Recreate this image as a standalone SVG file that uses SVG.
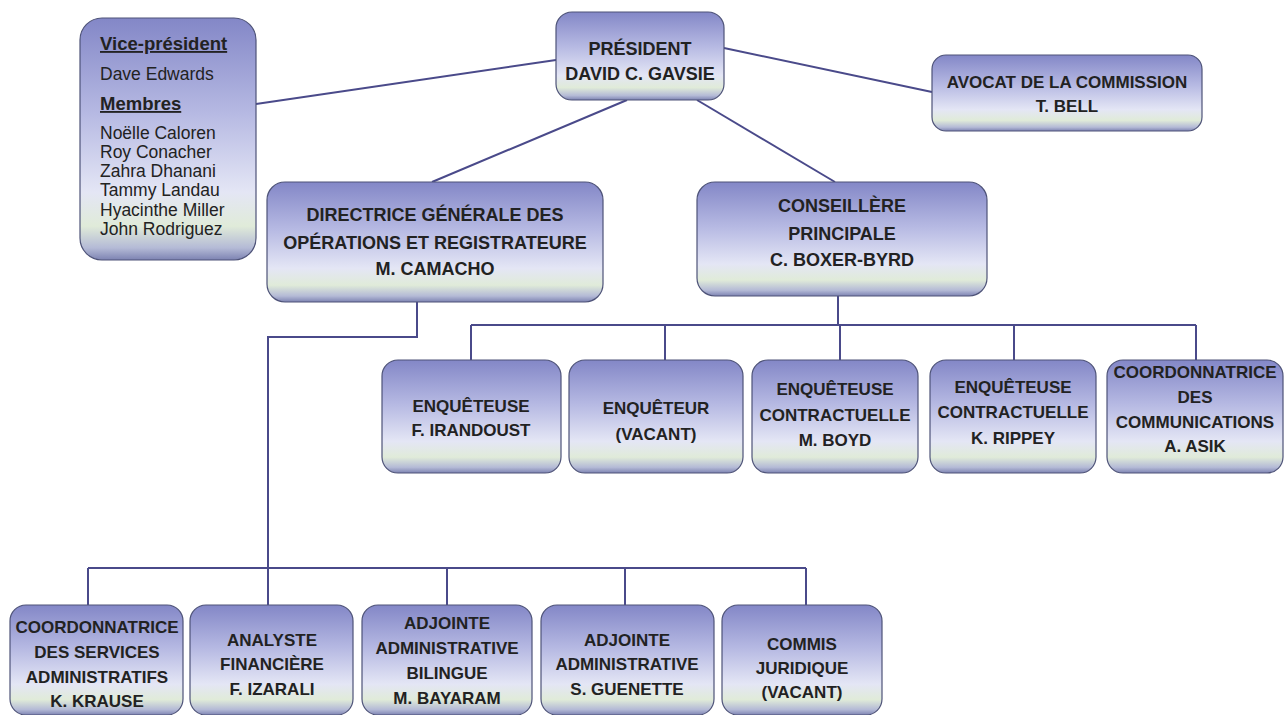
<svg xmlns="http://www.w3.org/2000/svg" width="1284" height="715" viewBox="0 0 1284 715">
<defs>
<linearGradient id="g" x1="0" y1="0" x2="0" y2="1">
<stop offset="0" stop-color="#8387c7"/>
<stop offset="0.4" stop-color="#b7bae3"/>
<stop offset="0.72" stop-color="#e4e6f5"/>
<stop offset="0.86" stop-color="#e0ebd9"/>
<stop offset="0.95" stop-color="#b4bad6"/>
<stop offset="1" stop-color="#7d83b2"/>
</linearGradient>
<style>
.b{fill:url(#g);stroke:#4e5378;stroke-width:1.2}
.t{font-family:"Liberation Sans",Arial,sans-serif;font-weight:bold;font-size:17px;fill:#222;text-anchor:middle}
.v{font-family:"Liberation Sans",Arial,sans-serif;font-size:17.5px;fill:#222}
.vb{font-weight:bold;text-decoration:underline}
.c{stroke:#4a4a8a;stroke-width:2;fill:none}
</style>
</defs>
<g id="connectors">
<line class="c" x1="256" y1="104" x2="556" y2="60"/>
<line class="c" x1="724" y1="48" x2="932" y2="92"/>
<line class="c" x1="627" y1="100" x2="432" y2="182"/>
<line class="c" x1="697" y1="100" x2="835" y2="182"/>
<polyline class="c" points="838,296 838,325"/>
<line class="c" x1="471" y1="325" x2="1196" y2="325"/>
<line class="c" x1="471" y1="325" x2="471" y2="360"/>
<line class="c" x1="665" y1="325" x2="665" y2="360"/>
<line class="c" x1="840" y1="325" x2="840" y2="360"/>
<line class="c" x1="1014" y1="325" x2="1014" y2="360"/>
<line class="c" x1="1196" y1="325" x2="1196" y2="360"/>
<polyline class="c" points="417,302 417,337 268,337 268,568"/>
<line class="c" x1="88" y1="568" x2="806" y2="568"/>
<line class="c" x1="88" y1="568" x2="88" y2="605"/>
<line class="c" x1="268" y1="568" x2="268" y2="605"/>
<line class="c" x1="447" y1="568" x2="447" y2="605"/>
<line class="c" x1="625" y1="568" x2="625" y2="605"/>
<line class="c" x1="806" y1="568" x2="806" y2="605"/>
</g>
<g id="vp">
<rect class="b" x="80" y="18" width="176" height="242" rx="22"/>
<text class="v vb" x="100" y="50" style="font-size:18.5px">Vice-président</text>
<text class="v" x="100" y="80">Dave Edwards</text>
<text class="v vb" x="100" y="110" style="font-size:18.5px">Membres</text>
<text class="v" x="100" y="139">Noëlle Caloren</text>
<text class="v" x="100" y="158">Roy Conacher</text>
<text class="v" x="100" y="177">Zahra Dhanani</text>
<text class="v" x="100" y="196">Tammy Landau</text>
<text class="v" x="100" y="216">Hyacinthe  Miller</text>
<text class="v" x="100" y="235">John Rodriguez</text>
</g>
<g id="president">
<rect class="b" x="556" y="12" width="168" height="88" rx="16"/>
<text class="t" x="640" y="55" style="font-size:18px">PRÉSIDENT</text>
<text class="t" x="640" y="80" style="font-size:18px">DAVID C. GAVSIE</text>
</g>
<g id="avocat">
<rect class="b" x="932" y="55" width="270" height="76" rx="14"/>
<text class="t" x="1067" y="88">AVOCAT DE LA COMMISSION</text>
<text class="t" x="1067" y="112">T. BELL</text>
</g>
<g id="directrice">
<rect class="b" x="267" y="182" width="336" height="120" rx="18"/>
<text class="t" x="435" y="221" style="font-size:18px">DIRECTRICE GÉNÉRALE DES</text>
<text class="t" x="435" y="249" style="font-size:18px">OPÉRATIONS ET REGISTRATEURE</text>
<text class="t" x="435" y="275" style="font-size:18px">M. CAMACHO</text>
</g>
<g id="conseillere">
<rect class="b" x="697" y="182" width="290" height="114" rx="18"/>
<text class="t" x="842" y="212" style="font-size:18px">CONSEILLÈRE</text>
<text class="t" x="842" y="240" style="font-size:18px">PRINCIPALE</text>
<text class="t" x="842" y="266" style="font-size:18px">C. BOXER-BYRD</text>
</g>
<g id="irandoust">
<rect class="b" x="382" y="360" width="179" height="113" rx="16"/>
<text class="t" x="471" y="412">ENQUÊTEUSE</text>
<text class="t" x="471" y="436">F. IRANDOUST</text>
</g>
<g id="enqueteur">
<rect class="b" x="569" y="360" width="174" height="113" rx="16"/>
<text class="t" x="656" y="414">ENQUÊTEUR</text>
<text class="t" x="656" y="440">(VACANT)</text>
</g>
<g id="boyd">
<rect class="b" x="752" y="360" width="166" height="113" rx="16"/>
<text class="t" x="835" y="395">ENQUÊTEUSE</text>
<text class="t" x="835" y="421">CONTRACTUELLE</text>
<text class="t" x="835" y="446">M. BOYD</text>
</g>
<g id="rippey">
<rect class="b" x="930" y="360" width="166" height="113" rx="16"/>
<text class="t" x="1013" y="393">ENQUÊTEUSE</text>
<text class="t" x="1013" y="418">CONTRACTUELLE</text>
<text class="t" x="1013" y="444">K. RIPPEY</text>
</g>
<g id="asik">
<rect class="b" x="1107" y="360" width="176" height="113" rx="16"/>
<text class="t" x="1195" y="378">COORDONNATRICE</text>
<text class="t" x="1195" y="403">DES</text>
<text class="t" x="1195" y="428">COMMUNICATIONS</text>
<text class="t" x="1195" y="452">A. ASIK</text>
</g>
<g id="krause">
<rect class="b" x="10" y="605" width="173" height="110" rx="16"/>
<text class="t" x="97" y="633">COORDONNATRICE</text>
<text class="t" x="97" y="658">DES SERVICES</text>
<text class="t" x="97" y="683">ADMINISTRATIFS</text>
<text class="t" x="97" y="707">K. KRAUSE</text>
</g>
<g id="izarali">
<rect class="b" x="190" y="605" width="163" height="110" rx="16"/>
<text class="t" x="272" y="646">ANALYSTE</text>
<text class="t" x="272" y="670">FINANCIÈRE</text>
<text class="t" x="272" y="695">F. IZARALI</text>
</g>
<g id="bayaram">
<rect class="b" x="362" y="605" width="170" height="110" rx="16"/>
<text class="t" x="447" y="629">ADJOINTE</text>
<text class="t" x="447" y="654">ADMINISTRATIVE</text>
<text class="t" x="447" y="679">BILINGUE</text>
<text class="t" x="447" y="704">M. BAYARAM</text>
</g>
<g id="guenette">
<rect class="b" x="541" y="605" width="173" height="110" rx="16"/>
<text class="t" x="627" y="646">ADJOINTE</text>
<text class="t" x="627" y="670">ADMINISTRATIVE</text>
<text class="t" x="627" y="695">S. GUENETTE</text>
</g>
<g id="commis">
<rect class="b" x="722" y="605" width="160" height="110" rx="16"/>
<text class="t" x="802" y="650">COMMIS</text>
<text class="t" x="802" y="674">JURIDIQUE</text>
<text class="t" x="802" y="698">(VACANT)</text>
</g>
</svg>
